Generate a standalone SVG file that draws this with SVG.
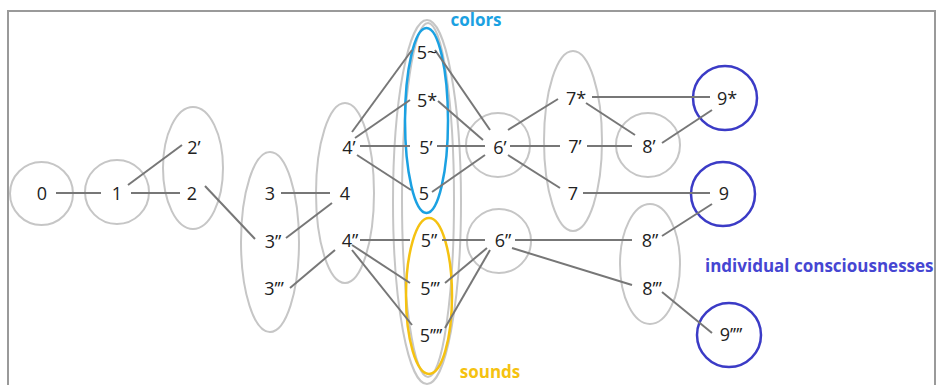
<svg xmlns="http://www.w3.org/2000/svg" width="938" height="385" viewBox="0 0 938 385">
<style>
.g{fill:none;stroke:#c6c6c6;stroke-width:2}
.b{fill:none;stroke:#3b3bc6;stroke-width:2.5}
.t{font-family:"Open Sans","Noto Sans",sans-serif;font-size:18px;fill:#222;text-anchor:middle;dominant-baseline:central}
.c line{stroke:#777;stroke-width:2}
.lab{font-family:"Open Sans","Noto Sans",sans-serif;font-size:17px;font-weight:bold;dominant-baseline:central}
</style>
<rect x="0" y="0" width="938" height="385" fill="#fff"/>
<rect x="8" y="11" width="927" height="390" fill="none" stroke="#9a9a9a" stroke-width="2"/>
<g id="groups">
<ellipse class="g" cx="41.5" cy="193.5" rx="31.5" ry="31.5"/>
<ellipse class="g" cx="117" cy="192" rx="32" ry="32"/>
<ellipse class="g" cx="193" cy="168" rx="30" ry="61"/>
<ellipse class="g" cx="270" cy="242" rx="29" ry="90"/>
<ellipse class="g" cx="345" cy="193" rx="29" ry="90"/>
<ellipse class="g" cx="427" cy="202" rx="34" ry="182"/>
<ellipse class="g" cx="428" cy="200" rx="26" ry="177"/>
<ellipse cx="426.5" cy="120.5" rx="21.5" ry="92.5" fill="none" stroke="#1ba1e2" stroke-width="2.5"/>
<ellipse cx="429" cy="296" rx="23" ry="78" fill="none" stroke="#f5c211" stroke-width="2.5"/>
<ellipse class="g" cx="498" cy="145" rx="32" ry="32"/>
<ellipse class="g" cx="499" cy="241" rx="32" ry="32"/>
<ellipse class="g" cx="573" cy="141" rx="29" ry="90"/>
<ellipse class="g" cx="648" cy="145" rx="32" ry="32"/>
<ellipse class="g" cx="650" cy="264" rx="30" ry="60"/>
<circle class="b" cx="725" cy="98" r="32"/>
<circle class="b" cx="723" cy="194" r="32"/>
<circle class="b" cx="729" cy="335" r="32"/>
</g>
<g class="c" id="connectors">
<line x1="56" y1="193" x2="101" y2="193"/>
<line x1="131" y1="193" x2="180" y2="193"/>
<line x1="128" y1="185" x2="182" y2="145"/>
<line x1="205" y1="186" x2="255" y2="239"/>
<line x1="281" y1="193" x2="330" y2="193"/>
<line x1="286" y1="238" x2="332" y2="203"/>
<line x1="290" y1="288" x2="335" y2="250"/>
<line x1="352" y1="132" x2="412" y2="50"/>
<line x1="355" y1="138" x2="410" y2="100"/>
<line x1="360" y1="146" x2="410" y2="146"/>
<line x1="357" y1="155" x2="411" y2="190"/>
<line x1="435" y1="50" x2="490" y2="130"/>
<line x1="438" y1="101" x2="483" y2="140"/>
<line x1="437" y1="146" x2="485" y2="146"/>
<line x1="432" y1="192" x2="485" y2="155"/>
<line x1="360" y1="240" x2="410" y2="240"/>
<line x1="352" y1="245" x2="410" y2="283"/>
<line x1="352" y1="250" x2="412" y2="325"/>
<line x1="442" y1="240" x2="485" y2="240"/>
<line x1="445" y1="283" x2="487" y2="248"/>
<line x1="445" y1="328" x2="490" y2="250"/>
<line x1="508" y1="130" x2="558" y2="99"/>
<line x1="510" y1="146" x2="560" y2="146"/>
<line x1="587" y1="146" x2="632" y2="146"/>
<line x1="508" y1="155" x2="560" y2="188"/>
<line x1="592" y1="97" x2="710" y2="97"/>
<line x1="586" y1="103" x2="635" y2="135"/>
<line x1="662" y1="143" x2="712" y2="110"/>
<line x1="583" y1="193" x2="710" y2="193"/>
<line x1="515" y1="240" x2="632" y2="240"/>
<line x1="512" y1="248" x2="632" y2="285"/>
<line x1="662" y1="236" x2="712" y2="204"/>
<line x1="662" y1="292" x2="712" y2="333"/>
</g>
<g id="n0"><text class="t" x="42" y="193">0</text></g>
<g id="n1"><text class="t" x="117" y="193">1</text></g>
<g id="n2p"><text class="t" x="194" y="147">2’</text></g>
<g id="n2"><text class="t" x="192" y="193">2</text></g>
<g id="n3"><text class="t" x="270" y="193">3</text></g>
<g id="n3pp"><text class="t" x="273" y="241">3”</text></g>
<g id="n3ppp"><text class="t" x="274" y="288">3’’’</text></g>
<g id="n4p"><text class="t" x="349" y="147">4’</text></g>
<g id="n4"><text class="t" x="345" y="193">4</text></g>
<g id="n4pp"><text class="t" x="350" y="240">4”</text></g>
<g id="n5t"><text class="t" x="427" y="52">5~</text></g>
<g id="n5s"><text class="t" x="427" y="100">5*</text></g>
<g id="n5p"><text class="t" x="426" y="147">5’</text></g>
<g id="n5"><text class="t" x="424" y="193">5</text></g>
<g id="n5pp"><text class="t" x="429" y="240">5”</text></g>
<g id="n5ppp"><text class="t" x="430" y="288">5’’’</text></g>
<g id="n5pppp"><text class="t" x="431" y="335">5’’’’</text></g>
<g id="n6p"><text class="t" x="500" y="147">6’</text></g>
<g id="n6pp"><text class="t" x="503" y="240">6”</text></g>
<g id="n7s"><text class="t" x="576" y="98">7*</text></g>
<g id="n7p"><text class="t" x="575" y="146">7’</text></g>
<g id="n7"><text class="t" x="573" y="193">7</text></g>
<g id="n8p"><text class="t" x="649" y="146">8’</text></g>
<g id="n8pp"><text class="t" x="650" y="240">8”</text></g>
<g id="n8ppp"><text class="t" x="652" y="288">8’’’</text></g>
<g id="n9s"><text class="t" x="727" y="98">9*</text></g>
<g id="n9"><text class="t" x="724" y="193">9</text></g>
<g id="n9pppp"><text class="t" x="731" y="334">9’’’’</text></g>
<text class="lab" x="476" y="19" fill="#1ba1e2" text-anchor="middle">colors</text>
<text class="lab" x="490" y="371" fill="#f5c211" text-anchor="middle">sounds</text>
<text class="lab" x="705" y="265" fill="#4646d2">individual consciousnesses</text>
</svg>
